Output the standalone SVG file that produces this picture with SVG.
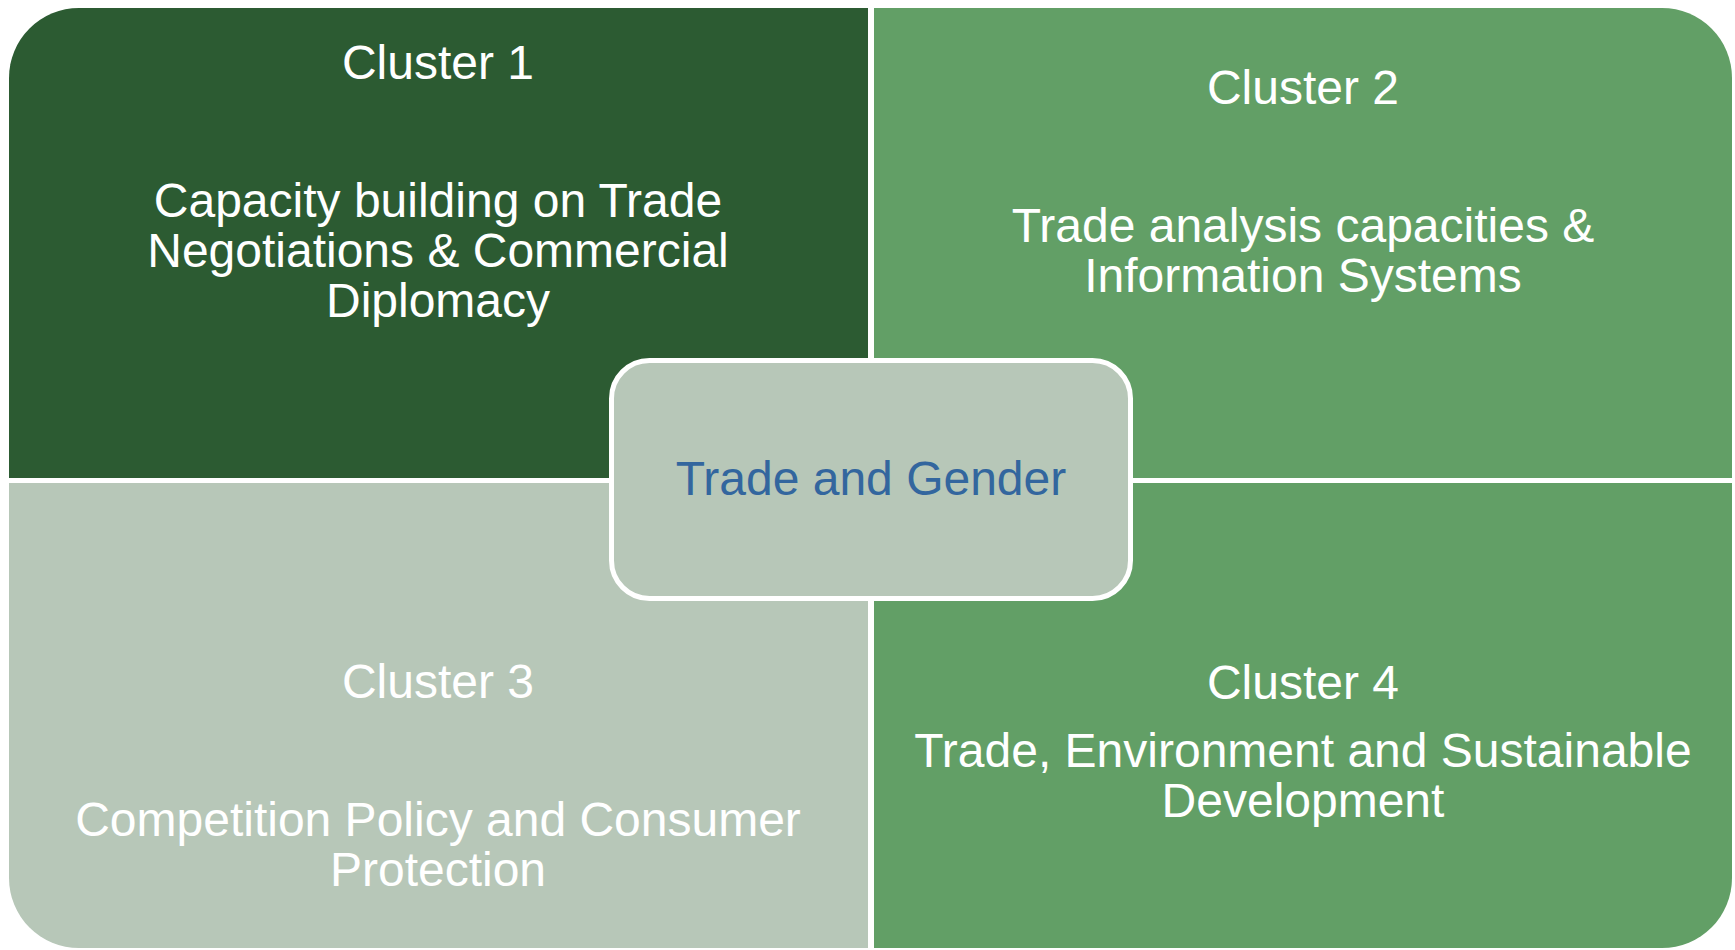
<svg xmlns="http://www.w3.org/2000/svg" width="1735" height="950" viewBox="0 0 1735 950">
<defs>
<style>
.lbl{font-family:"Liberation Sans",Arial,sans-serif;font-size:48px;fill:#FFFFFF;text-anchor:middle}
.ctr{font-family:"Liberation Sans",Arial,sans-serif;font-size:48px;fill:#33669E;text-anchor:middle}
</style>
</defs>
<rect width="1735" height="950" fill="#FFFFFF"/>
<g id="cluster1">
<path d="M9,478 L9,78 A70,70 0 0 1 79,8 L868,8 L868,478 Z" fill="#2C5B32"/>
<text class="lbl" x="438" y="79">Cluster 1</text>
<text class="lbl" x="438" y="217">Capacity building on Trade</text>
<text class="lbl" x="438" y="267">Negotiations &amp; Commercial</text>
<text class="lbl" x="438" y="317">Diplomacy</text>
</g>
<g id="cluster2">
<path d="M874,8 L1662,8 A70,70 0 0 1 1732,78 L1732,478 L874,478 Z" fill="#629F66"/>
<text class="lbl" x="1303" y="104">Cluster 2</text>
<text class="lbl" x="1303" y="242">Trade analysis capacities &amp;</text>
<text class="lbl" x="1303" y="292">Information Systems</text>
</g>
<g id="cluster3">
<path d="M9,483 L868,483 L868,948 L79,948 A70,70 0 0 1 9,878 Z" fill="#B7C7B8"/>
<text class="lbl" x="438" y="698">Cluster 3</text>
<text class="lbl" x="438" y="836">Competition Policy and Consumer</text>
<text class="lbl" x="438" y="886">Protection</text>
</g>
<g id="cluster4">
<path d="M874,483 L1732,483 L1732,878 A70,70 0 0 1 1662,948 L874,948 Z" fill="#629F66"/>
<text class="lbl" x="1303" y="699">Cluster 4</text>
<text class="lbl" x="1303" y="767">Trade, Environment and Sustainable</text>
<text class="lbl" x="1303" y="817">Development</text>
</g>
<g id="connectors"></g>
<g id="center">
<rect x="611.5" y="360.5" width="519" height="238" rx="38" ry="38" fill="#B7C7B8" stroke="#FFFFFF" stroke-width="5"/>
<text class="ctr" x="871" y="495">Trade and Gender</text>
</g>
</svg>
